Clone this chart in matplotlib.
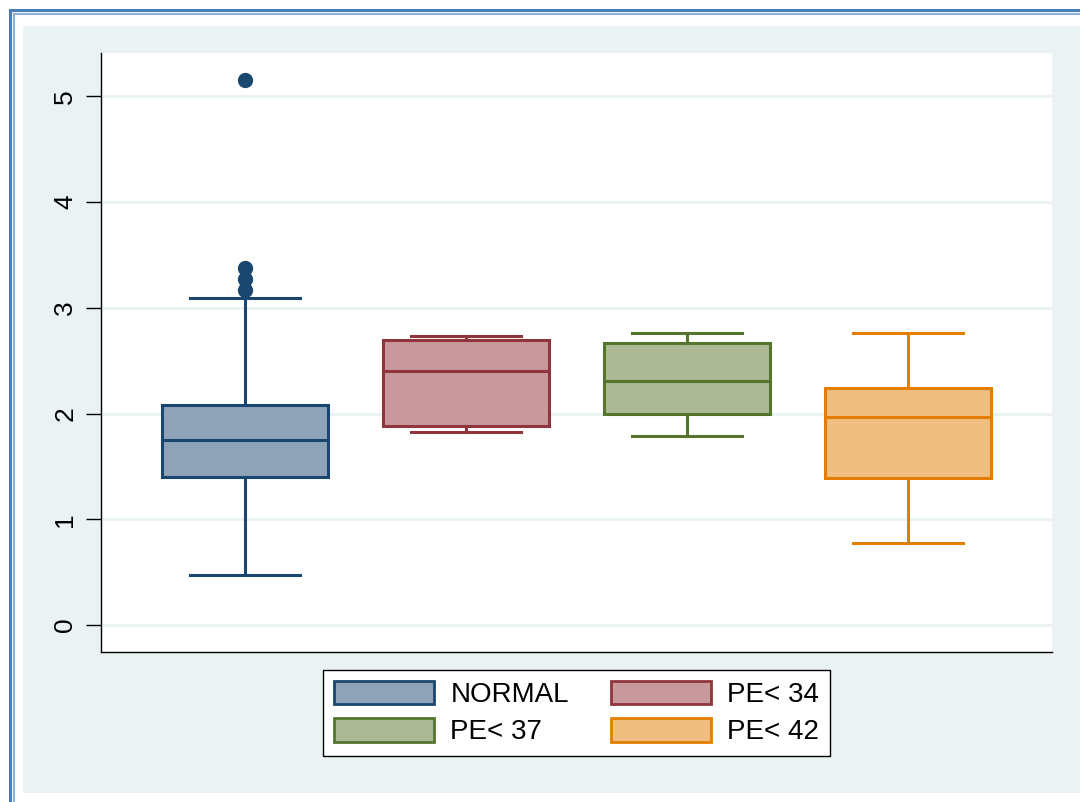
import matplotlib
matplotlib.use("Agg")
import matplotlib.pyplot as plt
from matplotlib.patches import Patch, Rectangle
from matplotlib.lines import Line2D

plt.rcParams['font.family'] = ['Liberation Sans', 'DejaVu Sans']

groups = ['NORMAL', 'PE< 34', 'PE< 37', 'PE< 42']
whislo = [0.47, 1.83, 1.79, 0.78]
q1 = [1.40, 1.88, 2.00, 1.39]
med = [1.75, 2.40, 2.31, 1.97]
q3 = [2.08, 2.70, 2.67, 2.24]
whishi = [3.09, 2.73, 2.76, 2.76]
outliers = [[3.17, 3.27, 3.38, 5.15], [], [], []]

edge_cols = ['#1a476f', '#90353b', '#55752f', '#e37e00']
fill_cols = ['#8ea3b8', '#c8999c', '#abba94', '#f0be80']
bg = '#eaf2f3'

fig = plt.figure(figsize=(10.8, 8.02), dpi=100)
fig.patch.set_facecolor('white')

# light panel behind the plot
fig.patches.append(Rectangle((23 / 1080, 1 - 793 / 802), 1.0, (793 - 26) / 802,
                             transform=fig.transFigure, facecolor=bg, edgecolor='none', zorder=-5))
# double blue frame (left and top edges visible)
for off, col, lw in [(10, '#4a7ebb', 2.2), (14, '#8fb0da', 1.5)]:
    fig.add_artist(Line2D([off / 1080, off / 1080], [0, 1 - off / 802], color=col, lw=lw,
                          transform=fig.transFigure))
    fig.add_artist(Line2D([off / 1080, 1], [1 - off / 802, 1 - off / 802], color=col, lw=lw,
                          transform=fig.transFigure))

ax = fig.add_axes([101 / 1080, 1 - 652 / 802, (1052 - 101) / 1080, (652 - 53) / 802])
ax.set_facecolor('white')

for i in range(4):
    stats = [dict(whislo=whislo[i], q1=q1[i], med=med[i], q3=q3[i], whishi=whishi[i],
                  fliers=outliers[i])]
    c = edge_cols[i]
    ax.bxp(stats, positions=[i + 1], widths=0.751, capwidths=0.5, patch_artist=True,
           showfliers=True,
           boxprops=dict(facecolor=fill_cols[i], edgecolor=c, linewidth=2.2),
           medianprops=dict(color=c, linewidth=2.2),
           whiskerprops=dict(color=c, linewidth=2.2),
           capprops=dict(color=c, linewidth=2.2),
           flierprops=dict(marker='o', markerfacecolor=c, markeredgecolor=c, markersize=10))

ax.set_xlim(0.348, 4.652)
ax.set_ylim(-0.255, 5.41)
ax.set_yticks([0, 1, 2, 3, 4, 5])
ax.set_xticks([])
ax.tick_params(axis='y', length=11, width=1, labelsize=19, pad=6)
for lab in ax.get_yticklabels():
    lab.set_rotation(90)
    lab.set_va('center')
ax.yaxis.grid(True, color=bg, linewidth=2)
ax.set_axisbelow(True)
for s in ['top', 'right']:
    ax.spines[s].set_visible(False)
for s in ['left', 'bottom']:
    ax.spines[s].set_color('black')
    ax.spines[s].set_linewidth(1)

# legend filled row by row, as in the reference
order = [0, 2, 1, 3]
handles = [Patch(facecolor=fill_cols[i], edgecolor=edge_cols[i], linewidth=2) for i in order]
labels = [groups[i] for i in order]
leg = fig.legend(handles, labels, ncol=2, loc='center',
                 bbox_to_anchor=(576.5 / 1080, 1 - 713 / 802),
                 fontsize=20, frameon=True, fancybox=False, edgecolor='black',
                 facecolor='white', framealpha=1,
                 handlelength=3.6, handleheight=0.94, handletextpad=0.58,
                 columnspacing=1.5, labelspacing=0.35, borderpad=0.4, borderaxespad=0)
leg.get_frame().set_linewidth(1)

fig.savefig('out.png', dpi=100)
